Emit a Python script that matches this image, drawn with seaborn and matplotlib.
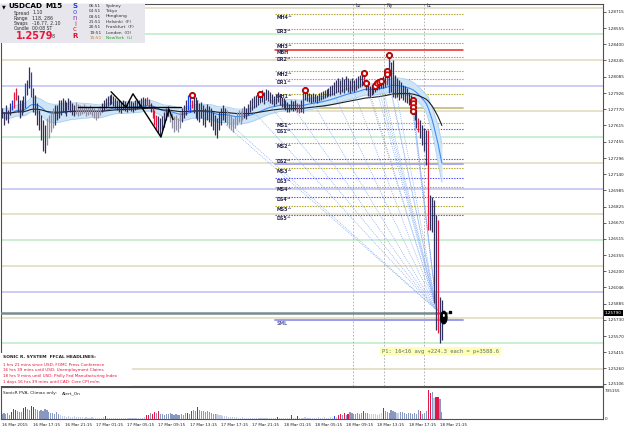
import numpy as np
import pandas as pd
import matplotlib
matplotlib.use("Agg")
import matplotlib.pyplot as plt
from matplotlib.patches import Rectangle, Ellipse
import matplotlib.transforms as mtransforms
import seaborn as sns

sns.set_theme(style="white")
plt.rcParams["font.family"] = ["DejaVu Sans"]

# ---------------- data (USDCAD M15) ----------------
highs = [
    1.2778, 1.2774, 1.2781, 1.2776, 1.2783, 1.2786, 1.2794, 1.2798, 1.2791, 1.2786,
    1.2786, 1.2790, 1.2802, 1.2805, 1.2818, 1.2813, 1.2798, 1.2791, 1.2783, 1.2776,
    1.2771, 1.2767, 1.2762, 1.2769, 1.2771, 1.2774, 1.2778, 1.2781, 1.2781, 1.2786,
    1.2786, 1.2788, 1.2786, 1.2784, 1.2788, 1.2786, 1.2783, 1.2781, 1.2784, 1.2782,
    1.2781, 1.2780, 1.2782, 1.2780, 1.2779, 1.2781, 1.2779, 1.2778, 1.2776, 1.2778,
    1.2780, 1.2783, 1.2786, 1.2788, 1.2790, 1.2791, 1.2792, 1.2790, 1.2788, 1.2786,
    1.2786, 1.2784, 1.2786, 1.2785, 1.2783, 1.2786, 1.2785, 1.2784, 1.2786, 1.2787,
    1.2786, 1.2788, 1.2789, 1.2788, 1.2789, 1.2787, 1.2783, 1.2780, 1.2776, 1.2771,
    1.2770, 1.2769, 1.2770, 1.2774, 1.2778, 1.2780, 1.2776, 1.2773, 1.2770, 1.2771,
    1.2769, 1.2774, 1.2778, 1.2781, 1.2786, 1.2791, 1.2789, 1.2786, 1.2793, 1.2789,
    1.2786, 1.2783, 1.2784, 1.2781, 1.2778, 1.2782, 1.2780, 1.2778, 1.2774, 1.2771,
    1.2769, 1.2774, 1.2778, 1.2781, 1.2778, 1.2776, 1.2773, 1.2771, 1.2769, 1.2770,
    1.2774, 1.2776, 1.2775, 1.2778, 1.2780, 1.2778, 1.2782, 1.2786, 1.2788, 1.2790,
    1.2791, 1.2793, 1.2794, 1.2796, 1.2794, 1.2797, 1.2796, 1.2794, 1.2792, 1.2790,
    1.2792, 1.2794, 1.2791, 1.2789, 1.2788, 1.2786, 1.2784, 1.2782, 1.2786, 1.2785,
    1.2786, 1.2783, 1.2782, 1.2786, 1.2796, 1.2794, 1.2794, 1.2793, 1.2792, 1.2793,
    1.2792, 1.2791, 1.2793, 1.2794, 1.2795, 1.2796, 1.2797, 1.2798, 1.2800, 1.2801,
    1.2803, 1.2805, 1.2807, 1.2805, 1.2808, 1.2806, 1.2809, 1.2807, 1.2805, 1.2807,
    1.2805, 1.2807, 1.2809, 1.2810, 1.2811, 1.2813, 1.2805, 1.2802, 1.2800, 1.2801,
    1.2802, 1.2802, 1.2804, 1.2805, 1.2806, 1.2809, 1.2811, 1.2817, 1.2830, 1.2823,
    1.2825, 1.2810, 1.2807, 1.2805, 1.2803, 1.2801, 1.2800, 1.2798, 1.2794, 1.2791,
    1.2788, 1.2781, 1.2776, 1.2769, 1.2767, 1.2762, 1.2759, 1.2757, 1.2757, 1.2694,
    1.2692, 1.2689, 1.2674, 1.2670, 1.2595, 1.2592,
]
lows = [
    1.2769, 1.2762, 1.2767, 1.2764, 1.2771, 1.2776, 1.2778, 1.2786, 1.2774, 1.2769,
    1.2771, 1.2774, 1.2778, 1.2791, 1.2798, 1.2789, 1.2774, 1.2771, 1.2762, 1.2757,
    1.2747, 1.2737, 1.2735, 1.2742, 1.2749, 1.2755, 1.2759, 1.2762, 1.2767, 1.2769,
    1.2771, 1.2774, 1.2773, 1.2770, 1.2776, 1.2774, 1.2771, 1.2770, 1.2772, 1.2770,
    1.2771, 1.2772, 1.2773, 1.2770, 1.2771, 1.2772, 1.2770, 1.2769, 1.2767, 1.2769,
    1.2771, 1.2774, 1.2776, 1.2778, 1.2780, 1.2781, 1.2782, 1.2780, 1.2778, 1.2776,
    1.2774, 1.2773, 1.2776, 1.2775, 1.2774, 1.2776, 1.2775, 1.2774, 1.2776, 1.2777,
    1.2778, 1.2779, 1.2780, 1.2780, 1.2781, 1.2778, 1.2774, 1.2769, 1.2762, 1.2757,
    1.2754, 1.2752, 1.2757, 1.2760, 1.2767, 1.2770, 1.2765, 1.2759, 1.2755, 1.2757,
    1.2755, 1.2759, 1.2765, 1.2769, 1.2771, 1.2776, 1.2774, 1.2778, 1.2773, 1.2769,
    1.2767, 1.2765, 1.2769, 1.2762, 1.2760, 1.2767, 1.2765, 1.2761, 1.2757, 1.2752,
    1.2749, 1.2757, 1.2762, 1.2767, 1.2765, 1.2762, 1.2759, 1.2757, 1.2755, 1.2759,
    1.2762, 1.2765, 1.2763, 1.2767, 1.2769, 1.2768, 1.2771, 1.2774, 1.2776, 1.2778,
    1.2779, 1.2781, 1.2783, 1.2784, 1.2782, 1.2786, 1.2785, 1.2783, 1.2782, 1.2780,
    1.2782, 1.2784, 1.2781, 1.2779, 1.2778, 1.2776, 1.2774, 1.2774, 1.2776, 1.2775,
    1.2776, 1.2774, 1.2773, 1.2774, 1.2773, 1.2786, 1.2785, 1.2784, 1.2783, 1.2784,
    1.2784, 1.2783, 1.2785, 1.2786, 1.2787, 1.2788, 1.2789, 1.2790, 1.2790, 1.2791,
    1.2791, 1.2793, 1.2794, 1.2792, 1.2794, 1.2793, 1.2796, 1.2794, 1.2793, 1.2795,
    1.2794, 1.2796, 1.2798, 1.2799, 1.2800, 1.2802, 1.2796, 1.2790, 1.2789, 1.2791,
    1.2792, 1.2794, 1.2796, 1.2797, 1.2798, 1.2798, 1.2799, 1.2801, 1.2793, 1.2794,
    1.2789, 1.2788, 1.2789, 1.2786, 1.2788, 1.2786, 1.2784, 1.2783, 1.2781, 1.2778,
    1.2774, 1.2767, 1.2759, 1.2755, 1.2749, 1.2742, 1.2737, 1.2723, 1.2660, 1.2660,
    1.2658, 1.2589, 1.2563, 1.2560, 1.2550, 1.2553,
]
candle_kind = (
    "dddddbrrdd" "ddbddbdddd" "dddggggddd" "ddddddddgg" "gggggggggg"
    "gddddddddd" "dddddddddd" "ddddrrdrrr" "ddddddgggg" "ggdddbbrdd"
    "dddddddddd" "dddddggggg" "ggggdddddd" "dddddddddd" "dddddddddd"
    "drrdbddddd" "dddddddddd" "dddddddddd" "dddddrdddd" "dddddddrbd"
    "dddddddddd" "rddrddddrd" "dddrdd"
)
volumes = [
    122500, 147000, 122500, 147000, 98000, 171500, 245000, 220500, 196000, 171500,
    171500, 269500, 294000, 245000, 220500, 318500, 294000, 245000, 220500, 196000,
    220500, 196000, 245000, 220500, 171500, 147000, 147000, 122500, 171500, 122500,
    98000, 73500, 73500, 49000, 73500, 49000, 49000, 73500, 49000, 49000,
    49000, 49000, 24500, 49000, 24500, 24500, 49000, 24500, 24500, 24500,
    24500, 24500, 49000, 73500, 24500, 24500, 24500, 24500, 24500, 24500,
    24500, 24500, 24500, 24500, 24500, 24500, 24500, 24500, 24500, 24500,
    24500, 24500, 24500, 49000, 98000, 98000, 147000, 122500, 171500, 147000,
    196000, 122500, 122500, 98000, 122500, 122500, 147000, 122500, 98000, 122500,
    98000, 98000, 122500, 98000, 147000, 147000, 122500, 196000, 220500, 196000,
    294000, 220500, 196000, 196000, 171500, 196000, 171500, 147000, 122500, 122500,
    122500, 98000, 98000, 73500, 73500, 73500, 49000, 49000, 49000, 49000,
    49000, 24500, 24500, 49000, 24500, 24500, 24500, 24500, 24500, 24500,
    24500, 24500, 24500, 24500, 24500, 24500, 24500, 24500, 24500, 24500,
    24500, 49000, 24500, 24500, 24500, 24500, 24500, 24500, 98000, 24500,
    24500, 73500, 24500, 24500, 24500, 49000, 24500, 24500, 24500, 24500,
    24500, 24500, 49000, 24500, 24500, 49000, 24500, 24500, 49000, 24500,
    73500, 49000, 98000, 122500, 98000, 147000, 98000, 122500, 171500, 147000,
    122500, 122500, 147000, 122500, 147000, 196000, 147000, 147000, 122500, 122500,
    122500, 122500, 98000, 122500, 147000, 269500, 196000, 171500, 147000, 220500,
    196000, 171500, 147000, 147000, 171500, 171500, 147000, 122500, 147000, 147000,
    122500, 147000, 122500, 220500, 196000, 122500, 147000, 196000, 735155, 661500,
    686000, 539000, 563500, 563500, 514500, 171500,
]
vol_kind = (
    "gggggbrrgg" "gbbggbbggg" "gggggggggg" "llllllllll" "llllllllll"
    "lllbllllll" "llllllllll" "llllrrgrrg" "rggggggggg" "gggggbgrgg"
    "bggggggggg" "llllllllll" "llllllllll" "llllllllll" "lbllllllrl"
    "lbllllllll" "llllllllll" "blrrgrgrgg" "gggggrggll" "lllllbgggg"
    "ggllgggggg" "ggggrgggrr" "glrrgg"
)

tick_bars = [0, 16, 32, 48, 64, 80, 96, 112, 128, 144, 160, 176, 192, 208, 224]
tick_labels = ["16 Mar 2015", "16 Mar 17:15", "16 Mar 21:15", "17 Mar 01:15",
               "17 Mar 05:15", "17 Mar 09:15", "17 Mar 13:15", "17 Mar 17:15",
               "17 Mar 21:15", "18 Mar 01:15", "18 Mar 05:15", "18 Mar 09:15",
               "18 Mar 13:15", "18 Mar 17:15", "18 Mar 21:15"]
price_ticks = [1.28715, 1.28555, 1.28400, 1.28245, 1.28085, 1.27926, 1.27770,
               1.27615, 1.27455, 1.27296, 1.27140, 1.26985, 1.26825, 1.26670,
               1.26515, 1.26355, 1.26200, 1.26046, 1.25885, 1.25730, 1.25570,
               1.25415, 1.25260, 1.25106]
current_price = 1.25790

quarter_levels = [1.2875, 1.2850, 1.2825, 1.2800, 1.2775, 1.2750, 1.2725, 1.2700,
                  1.2675, 1.2650, 1.2625, 1.2600, 1.2575, 1.2550, 1.2525]

pivot_names = ["MH4^", "DR3^", "MH3^", "DR2^", "MH2^", "DR1^", "MH1^", "MS1^", "DS1^",
               "MS2^", "DS2^", "MS3^", "DS3^", "MS4^", "DS4^", "MS5^", "DS5^"]
pivot_prices = [1.2869, 1.2855, 1.2841, 1.2828, 1.2814, 1.2806, 1.2792, 1.2764, 1.2758,
                1.2744, 1.2729, 1.2720, 1.2710, 1.2702, 1.2692, 1.2683, 1.2674]
pivot_kind = ["M", "DR", "M", "DR", "M", "DR", "M", "M", "DS",
              "M", "DS", "M", "DS", "M", "DS", "M", "DS"]
mbh_price = 1.28345
sml_price = 1.25726
day_open_price = 1.27782
week_level_price = 1.27239
pivot_start, pivot_end = 139.5, 236

session_names = ["Lo", "Ny", "Lc"]
session_bars = [179.5, 195.4, 215.9]

signal_bars = [97, 132, 155, 185, 186, 191, 192, 193, 194, 197, 197, 198, 210, 210, 210, 210]
signal_prices = [1.2791, 1.2792, 1.2796, 1.2812, 1.2802, 1.2800, 1.2802, 1.2803, 1.2804,
                 1.2814, 1.2811, 1.2830, 1.2786, 1.2783, 1.2779, 1.2775]
fan_extra_bars = [116, 128, 150, 170, 180]
fan_extra_prices = [1.2764, 1.2776, 1.2776, 1.2791, 1.2794]
fan_target = (222.5, 1.2582)
final_signal = (226, 1.2575)

zigzag_bars = [55.8, 63.4, 67.0, 81.3, 85.4, 87.5]
zigzag_prices = [1.2794, 1.2779, 1.2792, 1.2750, 1.2777, 1.2767]
neckline_bars = [38.9, 91.6]
neckline_price = 1.2779

# ---------------- figure ----------------
W, H = 625, 429
fig = plt.figure(figsize=(W / 100, H / 100), dpi=100)
fig.patch.set_facecolor("white")
ax = fig.add_axes([1 / W, 43 / H, 602 / W, 382 / H])
axv = fig.add_axes([1 / W, 10 / H, 602 / W, 32 / H])
XL = (-0.5, 307.4)
for a in (ax, axv):
    a.set_xlim(*XL)
    a.set_facecolor("white")
    for s in a.spines.values():
        s.set_color("#505050")
        s.set_linewidth(0.8)
ax.set_ylim(1.25086, 1.28791)

n = len(highs)
idx = np.arange(n)
hi = np.array(highs)
lo = np.array(lows)

# quarter levels
qcol = {0: "#c4c4f4", 50: "#c4ecc8", 25: "#e2dcc0", 75: "#e2dcc0"}
for q in quarter_levels:
    key = int(round(q * 10000)) % 100
    ax.axhline(q, color=qcol[key], lw=1.2, zorder=1)

# session lines
for nm, b in zip(session_names, session_bars):
    ax.axvline(b, color="#a8a8a8", lw=0.6, ls=(0, (2, 2)), zorder=1)
    ax.text(b + 1.2, 1.28775, nm, fontsize=3.4, color="#303050", va="center", zorder=6)

# pivot lines
pcol = {"M": "#a8a020", "DR": "#ff6060", "DS": "#4848ff"}
for nm, p, k in zip(pivot_names, pivot_prices, pivot_kind):
    ax.plot([pivot_start, pivot_end], [p, p], color=pcol[k], lw=0.8,
            ls=(0, (1.2, 1.2)), zorder=2)
    ax.text(pivot_start + 1.0, p - 0.00005, nm, fontsize=3.4, color="#282850",
            fontweight="bold", va="top", ha="left", zorder=6)
ax.plot([pivot_start, pivot_end], [mbh_price] * 2, color="#f02020", lw=1.1, zorder=2)
ax.text(pivot_start + 1.0, mbh_price - 0.00005, "MBH", fontsize=3.4, color="#282850",
        fontweight="bold", va="top", zorder=6)
ax.plot([pivot_start, pivot_end], [day_open_price] * 2, color="#c8c490", lw=1.4, zorder=2)
ax.plot([pivot_start, pivot_end], [week_level_price] * 2, color="#a8a8f0", lw=1.4, zorder=2)
ax.plot([pivot_start, pivot_end], [sml_price] * 2, color="#9c9cf0", lw=1.4, zorder=2)
ax.text(pivot_start + 1.0, sml_price - 0.00005, "SML", fontsize=3.4, color="#6060a0",
        fontweight="bold", va="top", zorder=6)

# current price line
ax.plot([-0.5, 227.5], [current_price] * 2, color="#788c8c", lw=1.8, zorder=3)

# EMA band (dragon)
ema_hi = pd.Series(hi).ewm(span=34, adjust=False).mean()
ema_lo = pd.Series(lo).ewm(span=34, adjust=False).mean()
mid = (hi + lo) / 2
ema_mid = pd.Series(mid).ewm(span=34, adjust=False).mean()
ema_slow = pd.Series(mid).ewm(span=89, adjust=False).mean()
ax.fill_between(idx, ema_lo, ema_hi, color="#cfe5f7", lw=0, zorder=2)
sns.lineplot(x=idx, y=ema_hi.values, ax=ax, color="#a8d0f0", lw=0.6, zorder=2)
sns.lineplot(x=idx, y=ema_lo.values, ax=ax, color="#a8d0f0", lw=0.6, zorder=2)
sns.lineplot(x=idx, y=ema_mid.values, ax=ax, color="#3c8cf8", lw=0.8, zorder=3)
sns.lineplot(x=idx, y=ema_slow.values, ax=ax, color="#1e1e1e", lw=0.8, zorder=3)

# fan lines
fan_b = signal_bars + fan_extra_bars
fan_p = signal_prices + fan_extra_prices
for b, p in zip(fan_b, fan_p):
    ax.plot([b, fan_target[0]], [p, fan_target[1]], color="#86acf2", lw=0.5,
            ls=(0, (1.5, 1.5)), zorder=3)

# candles
ccol = {"d": "#30305c", "g": "#8c8ca0", "r": "#e8163c", "b": "#1c3cf0"}
cols = [ccol[c] for c in candle_kind]
ax.vlines(idx, lo, hi, colors=cols, lw=0.9, zorder=4)

# drawn pattern
ax.plot(neckline_bars, [neckline_price] * 2, color="black", lw=1.0, zorder=5)
ax.plot(zigzag_bars, zigzag_prices, color="black", lw=1.0, zorder=5)

# signal markers (black rim, red ring, white centre)
sns.scatterplot(x=signal_bars, y=signal_prices, ax=ax, s=24, marker="o",
                color="black", linewidth=0, zorder=6)
sns.scatterplot(x=signal_bars, y=signal_prices, ax=ax, s=12, marker="o",
                facecolor="white", edgecolor="#e00000", linewidth=1.2, zorder=6)
ax.add_patch(Ellipse(final_signal, width=3.2, height=0.0012, facecolor="black",
                     edgecolor="black", zorder=7))
ax.add_patch(Ellipse((final_signal[0], final_signal[1] + 0.0002), width=1.0,
                     height=0.0003, facecolor="white", edgecolor="none", zorder=8))
ax.plot([229], [1.2580], marker="s", ms=1.6, color="black", zorder=7)

# y axis (right)
ax.set_xlabel("")
ax.set_ylabel("")
ax.yaxis.tick_right()
ax.set_yticks(price_ticks)
ax.set_yticklabels([f"{v:.5f}" for v in price_ticks])
ax.tick_params(axis="y", direction="out", length=2, width=0.5, labelsize=3.0,
               pad=1, colors="#202020")
ax.set_xticks([])
ax.text(1.003, current_price, f"{current_price:.5f}",
        transform=mtransforms.blended_transform_factory(ax.transAxes, ax.transData),
        fontsize=3.0, color="white", va="center", ha="left",
        bbox=dict(boxstyle="square,pad=0.25", fc="black", ec="none"), clip_on=False)

# volume pane
vcol = {"b": "#2848e8", "r": "#e0184a", "g": "#8898c0", "l": "#c4cce6"}
axv.bar(idx, volumes, width=0.6, color=[vcol[c] for c in vol_kind], lw=0)
axv.set_ylim(0, 735155 * 32 / 29)
axv.set_xlabel("")
axv.set_ylabel("")
axv.yaxis.tick_right()
axv.set_yticks([0, 735155])
axv.set_yticklabels(["0", "735155"])
axv.tick_params(axis="y", direction="out", length=0, labelsize=3.0, pad=1,
                colors="#202020")
axv.set_xticks(tick_bars)
axv.set_xticklabels(tick_labels, ha="left")
axv.tick_params(axis="x", direction="out", length=2, width=0.5, labelsize=3.0,
                pad=1, colors="#202020")
fig.text(3 / W, 1 - 393 / H, "SonicR PVA, Climax only:", fontsize=3.2, color="#202020", va="center")
fig.text(62 / W, 1 - 393 / H, "Alert_On", fontsize=3.2, color="#202020", va="center")

# ---------------- overlays in pixel coords ----------------
def fx(px):
    return px / W


def fy(py):
    return 1 - py / H


fig.patches.append(Rectangle((fx(0), fy(43)), 145 / W, 39 / H, transform=fig.transFigure,
                             facecolor="#e6e6ec", edgecolor="none", zorder=10))
fig.patches.append(Rectangle((fx(0), fy(386)), 132 / W, 33 / H, transform=fig.transFigure,
                             facecolor="white", edgecolor="none", zorder=10))

fig.text(fx(2), fy(6.5), "▼", fontsize=3.5, color="black", va="center", zorder=11)
fig.text(fx(8), fy(6.5), "USDCAD", fontsize=5.2, fontweight="bold", color="black", va="center", zorder=11)
fig.text(fx(45), fy(6.5), "M15", fontsize=5.2, fontweight="bold", color="black", va="center", zorder=11)
for i, (k, v) in enumerate([("Spread", "1.10"), ("Range", "118, 286"),
                            ("Swaps", "-16.77, 2.10"), ("Candle", "00:08 ST")]):
    yy = 13 + 5.2 * i
    fig.text(fx(14), fy(yy), k, fontsize=3.3, color="#303030", va="center", zorder=11)
    fig.text(fx(32), fy(yy), v, fontsize=3.3, color="#303030", va="center", zorder=11)
fig.text(fx(16), fy(36), "1.2579", fontsize=7, fontweight="bold", color="#e8163c", va="center", zorder=11)
fig.text(fx(52), fy(37), "8", fontsize=3.3, color="#303030", va="center", zorder=11)
for ch, yy, c, fw in [("S", 6, "#2040e0", "bold"), ("o", 12.5, "#4060e0", "normal"),
                      ("n", 18, "#8040b0", "normal"), ("i", 23.5, "#e03070", "normal"),
                      ("c", 29, "#e02040", "normal"), ("R", 36, "#e01030", "bold")]:
    fig.text(fx(75), fy(yy), ch, fontsize=5.0, fontweight=fw, color=c, va="center", ha="center", zorder=11)
sessions = [("06:51", "Sydney"), ("04:51", "Tokyo"), ("03:51", "Hongkong"),
            ("21:51", "Helsinki  (F)"), ("20:51", "Frankfurt  (F)"),
            ("19:51", "London  (O)"), ("15:51", "NewYork  (L)")]
for i, (t, nm) in enumerate(sessions):
    yy = 5.7 + 5.4 * i
    last = i == len(sessions) - 1
    fig.text(fx(89), fy(yy), t, fontsize=3.1, color="#c08030" if last else "#303030",
             va="center", zorder=11)
    fig.text(fx(106), fy(yy), nm, fontsize=3.1, color="#20a020" if last else "#303030",
             va="center", zorder=11)

fig.text(fx(3), fy(357), "SONIC R. SYSTEM  FFCAL HEADLINES:", fontsize=3.2,
         fontweight="bold", color="#202020", va="center", zorder=11)
headlines = ["1 hrs 21 mins since USD: FOMC Press Conference",
             "16 hrs 39 mins until USD: Unemployment Claims",
             "18 hrs 9 mins until USD: Philly Fed Manufacturing Index",
             "1 days 16 hrs 39 mins until CAD: Core CPI m/m"]
for i, t in enumerate(headlines):
    fig.text(fx(3), fy(365 + 5.5 * i), t, fontsize=3.0, color="#e8103c", va="center", zorder=11)

fig.text(fx(382), fy(351), "P1: 16<16 avg +224.3 each = p+3588.6", fontsize=3.9,
         family="DejaVu Sans Mono", color="#5a6a80", va="center", zorder=11,
         bbox=dict(boxstyle="square,pad=0.3", fc="#ffffb4", ec="none"))

fig.savefig("out.png", dpi=100)
